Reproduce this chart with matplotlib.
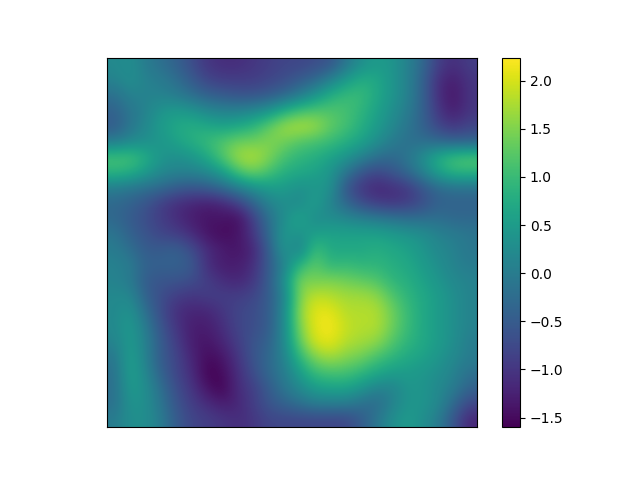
# %% import modules
import numpy as np
import matplotlib.pyplot as plt

# %% values, top row first
field = [
    [0.2, 0.3, 0.0, -0.2, -0.4, -0.7, -1.0, -1.1, -1.1, -1.0, -0.9, -0.8, -0.8, -0.7, -0.6, -0.1, 0.3, 0.5, 0.4, 0.1, -0.3, -0.9, -1.1, -0.9],
    [0.1, 0.3, 0.1, 0.0, -0.2, -0.5, -0.8, -0.9, -0.9, -0.9, -0.8, -0.7, -0.5, -0.3, 0.1, 0.5, 0.8, 0.7, 0.4, 0.1, -0.4, -1.1, -1.3, -1.0],
    [-0.2, 0.1, 0.1, 0.1, 0.0, -0.2, -0.4, -0.5, -0.6, -0.6, -0.5, -0.3, 0.0, 0.4, 0.8, 1.0, 1.0, 0.7, 0.4, 0.1, -0.4, -1.1, -1.4, -1.0],
    [-0.4, -0.1, 0.1, 0.4, 0.5, 0.4, 0.2, 0.1, 0.1, 0.2, 0.4, 0.8, 1.1, 1.2, 1.2, 1.1, 0.9, 0.6, 0.3, 0.0, -0.4, -1.0, -1.3, -1.0],
    [-0.5, -0.1, 0.2, 0.5, 0.7, 0.8, 0.7, 0.6, 0.7, 0.9, 1.3, 1.7, 1.8, 1.7, 1.3, 1.1, 0.8, 0.5, 0.2, -0.1, -0.4, -0.8, -1.0, -0.8],
    [0.0, 0.2, 0.3, 0.4, 0.6, 0.8, 1.0, 1.2, 1.4, 1.4, 1.5, 1.4, 1.2, 1.1, 1.0, 0.8, 0.6, 0.3, 0.0, -0.2, -0.2, -0.3, -0.4, -0.4],
    [1.1, 1.1, 0.8, 0.4, 0.3, 0.4, 0.7, 1.2, 1.7, 1.8, 1.5, 1.1, 0.9, 0.8, 0.6, 0.4, 0.1, -0.2, -0.3, -0.1, 0.3, 0.8, 1.1, 1.2],
    [0.9, 0.8, 0.5, 0.2, 0.1, 0.1, 0.2, 0.5, 1.1, 1.4, 1.1, 0.8, 0.7, 0.6, 0.4, -0.1, -0.6, -0.8, -0.6, -0.3, 0.1, 0.6, 0.9, 0.9],
    [0.0, -0.1, -0.2, -0.3, -0.5, -0.6, -0.5, -0.3, 0.0, 0.3, 0.5, 0.5, 0.3, 0.4, 0.4, -0.6, -1.0, -1.2, -1.1, -1.0, -0.6, -0.3, -0.2, -0.2],
    [-0.3, -0.4, -0.6, -0.9, -1.1, -1.2, -1.3, -1.2, -0.9, -0.4, 0.1, 0.3, 0.2, 0.6, 0.1, -0.3, -0.7, -0.9, -1.0, -0.9, -0.7, -0.4, -0.4, -0.4],
    [-0.3, -0.5, -0.7, -0.9, -1.1, -1.3, -1.4, -1.4, -1.5, -0.9, -0.2, 0.3, 0.7, 0.2, 0.3, 0.2, 0.1, 0.0, -0.1, -0.2, -0.2, -0.2, -0.3, -0.3],
    [-0.1, -0.4, -0.6, -0.8, -0.9, -1.1, -1.4, -1.5, -1.4, -1.0, -0.3, 0.5, 0.3, 0.6, 0.6, 0.6, 0.6, 0.6, 0.5, 0.4, 0.3, 0.1, 0.0, -0.1],
    [0.0, -0.2, -0.5, -0.5, -0.4, -0.7, -1.1, -1.3, -1.4, -1.2, -0.5, 0.5, 0.0, 1.1, 0.7, 0.7, 0.7, 0.8, 0.7, 0.6, 0.4, 0.2, 0.1, -0.1],
    [0.1, 0.0, -0.4, -0.4, -0.4, -0.5, -1.1, -1.3, -1.3, -1.1, -0.5, 0.1, 0.9, 1.3, 0.9, 1.0, 0.9, 0.9, 0.8, 0.7, 0.5, 0.3, 0.1, 0.0],
    [0.1, 0.0, -0.5, -0.6, -0.6, -0.7, -0.9, -1.1, -1.2, -1.0, -0.5, 0.3, 1.5, 1.4, 1.5, 1.4, 1.3, 1.2, 0.9, 0.8, 0.6, 0.4, 0.2, 0.1],
    [0.2, 0.2, -0.4, -0.7, -0.9, -1.0, -0.9, -0.9, -0.9, -0.8, -0.5, 0.1, 1.5, 1.9, 1.8, 1.7, 1.7, 1.6, 1.2, 0.9, 0.7, 0.5, 0.3, 0.1],
    [0.2, 0.4, -0.2, -0.7, -1.1, -1.2, -1.2, -1.0, -0.8, -0.7, -0.5, 0.2, 1.6, 2.1, 2.1, 1.8, 1.8, 1.8, 1.4, 1.0, 0.7, 0.5, 0.3, 0.1],
    [0.2, 0.5, 0.0, -0.6, -1.0, -1.3, -1.3, -1.1, -0.8, -0.7, -0.5, 0.2, 1.5, 2.1, 2.2, 1.9, 1.8, 1.8, 1.4, 1.0, 0.7, 0.5, 0.3, 0.1],
    [0.1, 0.5, 0.1, -0.5, -0.9, -1.3, -1.4, -1.2, -0.9, -0.6, -0.4, 0.2, 1.3, 2.0, 2.1, 1.8, 1.7, 1.6, 1.2, 0.9, 0.7, 0.5, 0.3, 0.0],
    [-0.1, 0.6, 0.1, -0.5, -0.8, -1.2, -1.5, -1.4, -1.0, -0.6, -0.3, 0.1, 0.9, 1.5, 1.7, 1.5, 1.4, 1.1, 0.9, 0.7, 0.6, 0.4, 0.2, 0.0],
    [-0.2, 0.6, 0.2, -0.4, -0.8, -1.1, -1.6, -1.5, -1.1, -0.7, -0.3, 0.0, 0.5, 1.0, 1.1, 1.1, 0.9, 0.7, 0.5, 0.5, 0.4, 0.3, 0.1, -0.2],
    [-0.2, 0.5, 0.3, -0.2, -0.7, -1.0, -1.4, -1.6, -1.1, -0.9, -0.5, -0.1, 0.2, 0.5, 0.6, 0.6, 0.4, 0.1, 0.1, 0.4, 0.4, 0.2, 0.0, -0.4],
    [-0.2, 0.4, 0.3, -0.1, -0.6, -0.9, -1.1, -1.3, -1.2, -0.9, -0.6, -0.4, -0.2, 0.0, 0.0, 0.0, -0.2, -0.3, 0.1, 0.4, 0.4, 0.2, -0.3, -0.8],
    [0.0, 0.3, 0.3, 0.0, -0.5, -0.8, -0.9, -1.0, -1.1, -1.0, -0.8, -0.8, -0.8, -0.8, -0.8, -0.8, -0.5, -0.1, 0.3, 0.5, 0.3, 0.0, -0.6, -1.2],
]
vmin = -1.6
vmax = 2.24

# %% Generate and save plot
fig, ax = plt.subplots()

im = ax.imshow(np.array(field), cmap='viridis', interpolation='bicubic', vmin=vmin, vmax=vmax)
fig.colorbar(im, ax=ax)

# no ticks on the field itself
ax.set_xticks([])
ax.set_yticks([])

fig.savefig('out.png', dpi=100)
